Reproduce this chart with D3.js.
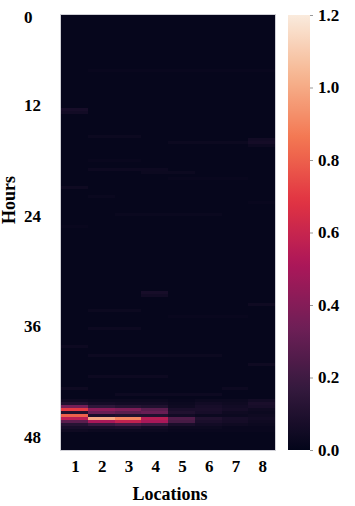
<!DOCTYPE html>
<html>
<head>
<meta charset="utf-8">
<script src="https://cdn.jsdelivr.net/npm/d3@7"></script>
<style>
  body { margin: 0; background: #fff; }
  text { font-family: "Times New Roman", "Liberation Serif", serif; font-weight: bold; fill: #000; }
</style>
</head>
<body>
<div id="chart"></div>
<script>
"use strict";

// == DATA ==
var locations = [1, 2, 3, 4, 5, 6, 7, 8];
var hourTicks = [0, 12, 24, 36, 48];
var colorTicks = [0, 0.2, 0.4, 0.6, 0.8, 1.0, 1.2];
var rowCount = 145;          // 20-minute samples, hour 0 .. 48
var baseLevel = 0.01;

// strong rows near the end (row index -> values for locations 1..8)
var bandRows = [128, 129, 130, 131, 132, 133, 134, 135, 136, 137, 138];
var bandVals = [
  [0.04, 0.03, 0.03, 0.03, 0.02, 0.03, 0.03, 0.05],
  [0.10, 0.06, 0.05, 0.05, 0.03, 0.05, 0.04, 0.08],
  [0.35, 0.15, 0.12, 0.10, 0.04, 0.07, 0.05, 0.07],
  [0.70, 0.42, 0.38, 0.28, 0.08, 0.08, 0.06, 0.04],
  [0.10, 0.32, 0.28, 0.32, 0.10, 0.07, 0.04, 0.03],
  [0.80, 0.08, 0.10, 0.10, 0.05, 0.03, 0.03, 0.04],
  [0.55, 1.00, 0.90, 0.55, 0.25, 0.10, 0.07, 0.05],
  [0.28, 0.50, 0.58, 0.50, 0.22, 0.08, 0.06, 0.04],
  [0.12, 0.18, 0.22, 0.18, 0.08, 0.05, 0.04, 0.03],
  [0.07, 0.07, 0.08, 0.05, 0.03, 0.03, 0.02, 0.02],
  [0.04, 0.03, 0.03, 0.03, 0.02, 0.02, 0.02, 0.02]
];

// faint stripes elsewhere: row, first location, last location, value
var faintRow  = [18, 31, 32, 40, 41, 42, 42, 43, 48, 51, 52, 54, 57, 60, 62, 66, 70, 92, 93, 96, 98, 100, 104, 110, 113, 113, 116, 120, 124, 124, 126];
var faintFrom = [2,  1,  1,  2,  8,  5,  8,  8,  2,  2,  4,  5,  1,  2,  8,  3,  1,  4,  4,  8,  2,  5,   2,   1,   2,   5,   8,   2,   1,   7,   3];
var faintTo   = [8,  1,  1,  3,  8,  7,  8,  8,  3,  4,  5,  7,  1,  2,  8,  6,  1,  4,  4,  8,  3,  7,   3,   1,   4,   6,   8,   4,   1,   7,   6];
var faintVal  = [0.02, 0.07, 0.05, 0.03, 0.05, 0.03, 0.06, 0.035, 0.02, 0.035, 0.03, 0.02, 0.04, 0.025, 0.02, 0.025, 0.02, 0.07, 0.05, 0.04, 0.03, 0.02, 0.035, 0.035, 0.035, 0.03, 0.04, 0.035, 0.04, 0.035, 0.035];

// rocket colormap key colours
var rocketColors = ["#03051a", "#35193e", "#701f57", "#ad1759", "#e13342", "#f37651", "#f6b48f", "#faebdd"];

// == BUILD CELLS ==
var cells = [];
d3.range(rowCount).forEach(function (r) {
  locations.forEach(function (loc) {
    cells.push({ row: r, loc: loc, value: baseLevel });
  });
});
function cellAt(r, loc) { return cells[r * locations.length + (loc - 1)]; }
faintRow.forEach(function (r, i) {
  d3.range(faintFrom[i], faintTo[i] + 1).forEach(function (loc) {
    cellAt(r, loc).value = faintVal[i];
  });
});
bandRows.forEach(function (r, i) {
  bandVals[i].forEach(function (v, j) { cellAt(r, locations[j]).value = v; });
});

// == SVG ==
var W = 355, H = 506;
var svg = d3.select("#chart").append("svg")
  .attr("width", W).attr("height", H);

var plot = { left: 61, right: 275, top: 15, bottom: 450 };

var x = d3.scaleBand().domain(locations).range([plot.left, plot.right]);
var y = d3.scaleBand().domain(d3.range(rowCount)).range([plot.top, plot.bottom]);
var vmax = 1.2;
var color = d3.scaleLinear()
  .domain(rocketColors.map(function (c, i) { return i / (rocketColors.length - 1) * vmax; }))
  .range(rocketColors)
  .interpolate(d3.interpolateRgb)
  .clamp(true);

svg.append("g")
  .attr("shape-rendering", "crispEdges")
  .selectAll("rect")
  .data(cells)
  .enter().append("rect")
  .attr("x", function (d) { return x(d.loc); })
  .attr("y", function (d) { return y(d.row); })
  .attr("width", x.bandwidth() + 0.6)
  .attr("height", y.bandwidth() + 0.6)
  .attr("fill", function (d) { return color(d.value); });

svg.append("rect")
  .attr("x", plot.left - 0.5).attr("y", plot.top - 0.5)
  .attr("width", plot.right - plot.left + 1).attr("height", plot.bottom - plot.top + 1)
  .attr("fill", "none").attr("stroke", "#d0d0d6").attr("stroke-width", 1);

// hour labels (positions as in the figure)
var hourPos = d3.scaleLinear().domain([0, 12, 48]).range([17, 105, 437]);
svg.append("g").selectAll("text")
  .data(hourTicks)
  .enter().append("text")
  .attr("x", 24)
  .attr("y", function (d) { return hourPos(d); })
  .attr("dy", "0.35em")
  .attr("font-size", "17px")
  .text(function (d) { return d; });

svg.append("text")
  .attr("transform", "translate(15,200) rotate(-90)")
  .attr("text-anchor", "middle")
  .attr("font-size", "18px")
  .text("Hours");

// location labels
svg.append("g").selectAll("text")
  .data(locations)
  .enter().append("text")
  .attr("x", function (d) { return x(d) + x.bandwidth() / 2 + 1; })
  .attr("y", 472)
  .attr("text-anchor", "middle")
  .attr("font-size", "17px")
  .text(function (d) { return d; });

svg.append("text")
  .attr("x", 170).attr("y", 500)
  .attr("text-anchor", "middle")
  .attr("font-size", "18px")
  .text("Locations");

// == COLORBAR ==
var cb = { left: 288, width: 22 };
var cbScale = d3.scaleLinear().domain([0, vmax]).range([plot.bottom, plot.top]);

var grad = svg.append("defs").append("linearGradient")
  .attr("id", "rocket").attr("x1", 0).attr("y1", 1).attr("x2", 0).attr("y2", 0);
grad.selectAll("stop")
  .data(d3.range(0, 1.0001, 0.02))
  .enter().append("stop")
  .attr("offset", function (t) { return t; })
  .attr("stop-color", function (t) { return color(t * vmax); });

svg.append("rect")
  .attr("x", cb.left).attr("y", plot.top)
  .attr("width", cb.width).attr("height", plot.bottom - plot.top)
  .attr("fill", "url(#rocket)");

var cbAxis = d3.axisRight(cbScale)
  .tickValues(colorTicks)
  .tickFormat(d3.format(".1f"))
  .tickSize(3)
  .tickPadding(5);

var cbg = svg.append("g")
  .attr("transform", "translate(" + (cb.left + cb.width) + ",0)")
  .call(cbAxis);
cbg.attr("font-family", null).attr("font-size", null);
cbg.select(".domain").remove();
cbg.selectAll(".tick line").attr("stroke", "#999");
cbg.selectAll("text")
  .attr("font-size", "17px")
  .attr("fill", "#000");
</script>
</body>
</html>
